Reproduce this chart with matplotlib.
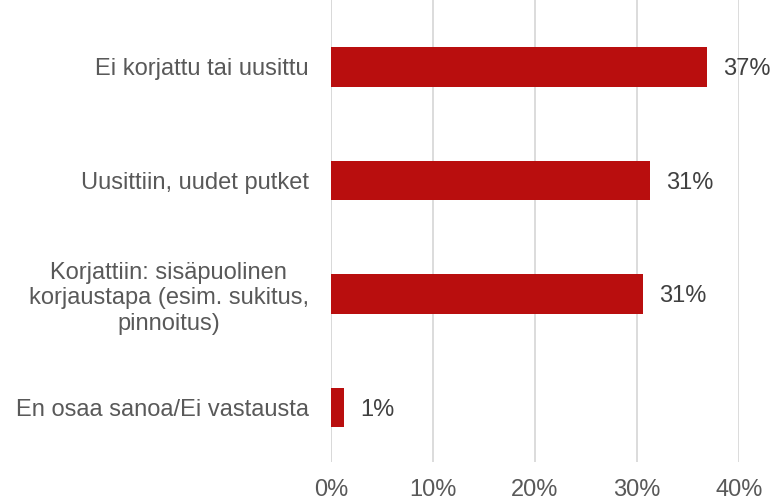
import matplotlib.pyplot as plt

plt.rcParams['font.family'] = ['Liberation Sans', 'DejaVu Sans']

categories = ['Ei korjattu tai uusittu',
              'Uusittiin, uudet putket',
              'Korjattiin: sisäpuolinen\nkorjaustapa (esim. sukitus,\npinnoitus)',
              'En osaa sanoa/Ei vastausta']
values = [36.9, 31.3, 30.6, 1.3]
labels = ['37%', '31%', '31%', '1%']
ticks = [0, 10, 20, 30, 40]

text_col = '#595959'
bar_col = '#B90E0E'
fs = 17

fig = plt.figure(figsize=(7.75, 5.01), dpi=100)
ax = fig.add_axes([0.427, 0.078, 0.5265, 0.922])

y = range(len(categories))
ax.barh(y, values, height=0.35, color=bar_col, zorder=3)

for yi, v, lab in zip(y, values, labels):
    ax.annotate(lab, (v, yi), xytext=(11.5, 0), textcoords='offset points',
                va='center_baseline', ha='left', fontsize=fs, color='#404040')

ax.set_xlim(0, 40)
ax.set_ylim(3.48, -0.59)
ax.set_xticks(ticks)
ax.set_xticklabels([f'{t}%' for t in ticks], fontsize=fs, color=text_col)
ax.set_yticks(list(y))
ax.set_yticklabels(categories, fontsize=fs, color=text_col, ha='right',
                   multialignment='center', linespacing=1.2)
ax.tick_params(axis='y', length=0, pad=16)
ax.tick_params(axis='x', length=0, pad=12)
ax.grid(axis='x', color='#D9D9D9', linewidth=1.3, zorder=0)
for s in ax.spines.values():
    s.set_visible(False)
ax.axvline(0, color='#D9D9D9', linewidth=1.3, zorder=1)

fig.savefig('out.png', dpi=100)
